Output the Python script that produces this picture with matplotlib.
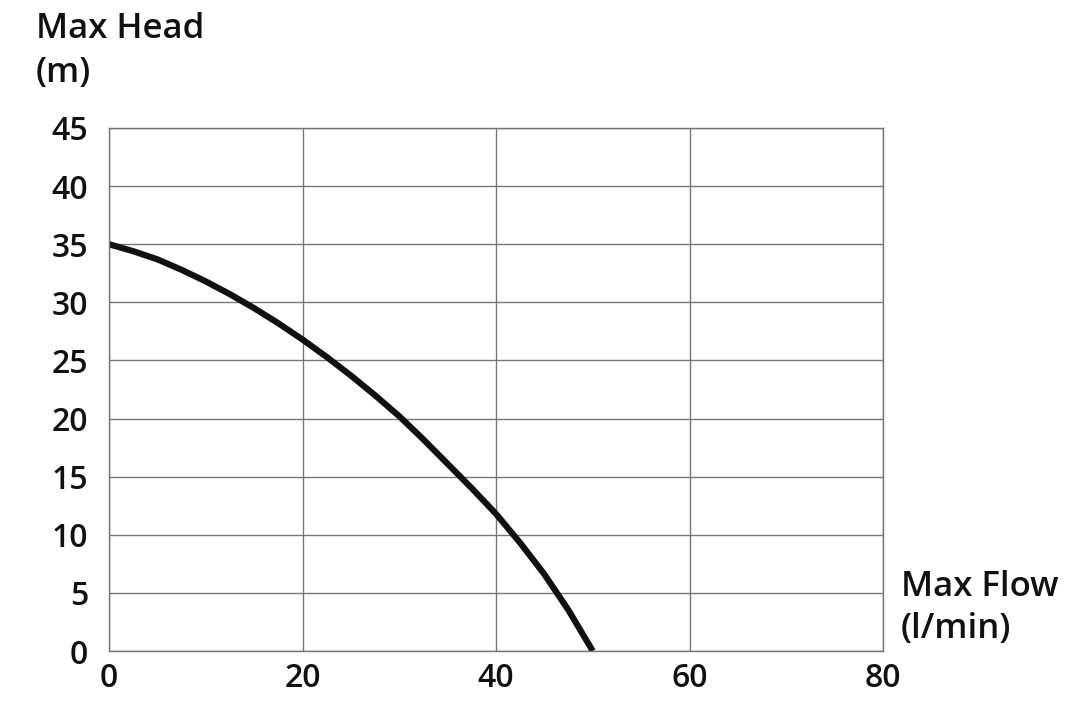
import matplotlib.pyplot as plt

flow = [0, 2.5, 5, 7.5, 10, 12.5, 15, 17.5, 20, 22.5, 25, 27.5, 30,
        32.5, 35, 37.5, 40, 42.5, 45, 47.5, 50]
head = [35, 34.4, 33.7, 32.8, 31.8, 30.7, 29.5, 28.2, 26.8, 25.3, 23.7, 22.0, 20.2,
        18.2, 16.1, 14.0, 11.8, 9.3, 6.6, 3.5, 0]

x_ticks = [0, 20, 40, 60, 80]
y_ticks = [0, 5, 10, 15, 20, 25, 30, 35, 40, 45]

plt.rcParams['font.family'] = ['Open Sans', 'DejaVu Sans']

fig = plt.figure(figsize=(10.88, 7.13), dpi=100)
ax = fig.add_axes([109 / 1088, 1 - 651 / 713, (883 - 109) / 1088, (651 - 128) / 713])

ax.plot(flow, head, color="#111111", linewidth=4.5, solid_capstyle="butt",
        solid_joinstyle="round")

ax.set_xlim(0, 80)
ax.set_ylim(0, 45)
ax.set_xticks(x_ticks)
ax.set_yticks(y_ticks)
ax.grid(True, color="#777777", linewidth=1)
ax.set_axisbelow(True)
for s in ax.spines.values():
    s.set_color("#777777")
    s.set_linewidth(1)
ax.tick_params(length=0, labelsize=23, colors="#111111")
ax.tick_params(axis="y", pad=15)
ax.tick_params(axis="x", pad=8)
for lab in ax.get_xticklabels() + ax.get_yticklabels():
    lab.set_fontweight("semibold")

fig.text(36 / 1088, 1 - 12 / 713, "Max Head\n(m)", fontsize=25, fontweight="semibold",
         va="top", ha="left", linespacing=1.4, color="#111111")
fig.text(901 / 1088, 1 - 570 / 713, "Max Flow\n(l/min)", fontsize=25, fontweight="semibold",
         va="top", ha="left", linespacing=1.3, color="#111111")

fig.savefig("out.png", dpi=100)
